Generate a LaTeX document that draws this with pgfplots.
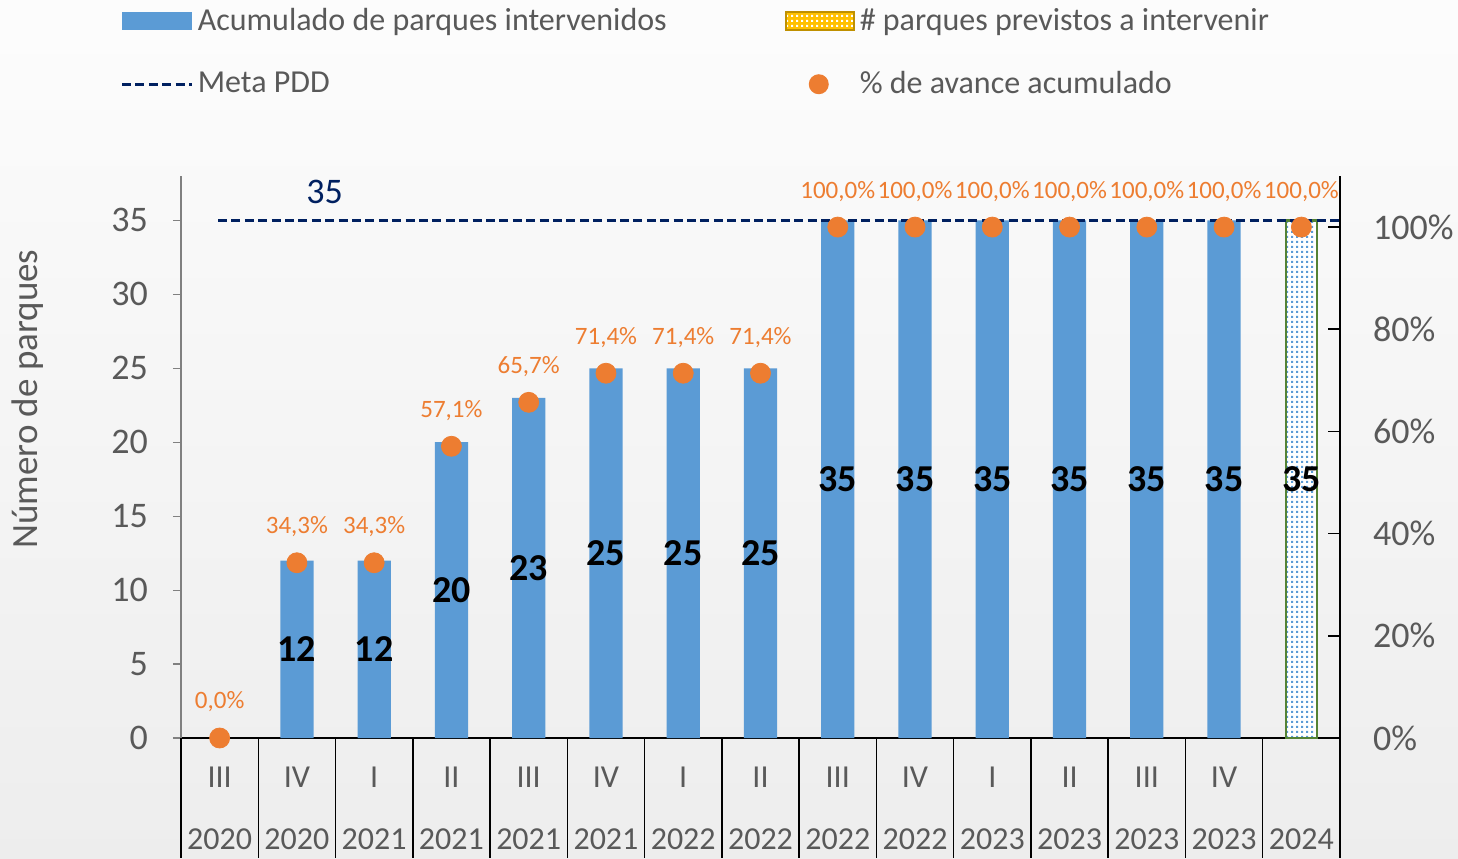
\documentclass[border=0pt]{standalone}
\usepackage{pgfplots}
\usepackage{pgfplotstable}
\pgfplotsset{compat=1.18}
\usepackage{fontspec}
\setmainfont{Carlito}
\usetikzlibrary{patterns}
\definecolor{barblue}{HTML}{5B9BD5}
\definecolor{dotorange}{HTML}{ED7D31}
\definecolor{navy}{HTML}{002060}
\definecolor{txtgray}{HTML}{595959}
\definecolor{gold}{HTML}{FFC000}
\definecolor{darkgold}{HTML}{BF9000}
\definecolor{pgreen}{HTML}{548235}

\pgfdeclarepatternformonly{sqdots}{\pgfpointorigin}{\pgfqpoint{2.5pt}{2.5pt}}{\pgfqpoint{2.5pt}{2.5pt}}{%
  \pgfpathrectangle{\pgfqpoint{0.7pt}{0.7pt}}{\pgfqpoint{1.1pt}{1.1pt}}\pgfusepath{fill}}

\pgfplotstableread{
x y half lab
1 12 6 12
2 12 6 12
3 20 10 20
4 23 11.5 23
5 25 12.5 25
6 25 12.5 25
7 25 12.5 25
8 35 17.5 35
9 35 17.5 35
10 35 17.5 35
11 35 17.5 35
12 35 17.5 35
13 35 17.5 35
}\barsdata

\pgfplotstableread{
x y half lab
14 35 17.5 35
}\plandata

\pgfplotstableread{
x p lab
0 0.000 0,0\%
1 0.343 34,3\%
2 0.343 34,3\%
3 0.571 57,1\%
4 0.657 65,7\%
5 0.714 71,4\%
6 0.714 71,4\%
7 0.714 71,4\%
8 1.000 100,0\%
9 1.000 100,0\%
10 1.000 100,0\%
11 1.000 100,0\%
12 1.000 100,0\%
13 1.000 100,0\%
14 1.000 100,0\%
}\pctdata

\begin{document}
\begin{tikzpicture}
\useasboundingbox (0,0) rectangle (729pt,429pt);
\shade[top color=white!99!black, bottom color=white!93!black] (0,0) rectangle (729pt,429pt);
\begin{axis}[
  at={(90.5pt,60pt)}, anchor=south west,
  scale only axis, width=579.5pt, height=281pt,
  xmin=-0.5, xmax=14.5, ymin=0, ymax=38,
  axis x line*=bottom, axis y line*=left,
  x axis line style={-, black, line width=1pt},
  y axis line style={-, gray, line width=0.6pt},
  clip=false,
  ytick={0,5,...,35},
  ytick style={gray, line width=0.6pt},
  tick align=outside, major tick length=4pt,
  /pgf/number format/assume math mode=true,
  yticklabel style={font=\fontsize{18}{20}\selectfont, text=txtgray, xshift=-9pt},
  xtick={0,...,14}, x tick style={draw=none},
  xticklabels={{III\\[12pt]2020},{IV\\[12pt]2020},{I\\[12pt]2021},{II\\[12pt]2021},{III\\[12pt]2021},{IV\\[12pt]2021},{I\\[12pt]2022},{II\\[12pt]2022},{III\\[12pt]2022},{IV\\[12pt]2022},{I\\[12pt]2023},{II\\[12pt]2023},{III\\[12pt]2023},{IV\\[12pt]2023},{\phantom{I}\\[12pt]2024}},
  xticklabel style={align=center, font=\fontsize{16}{19}\selectfont, text=txtgray, anchor=north, yshift=-7pt},
  ylabel={Número de parques},
  ylabel style={at={(axis description cs:-0.132,0.603)}, anchor=center, font=\fontsize{18.5}{20}\selectfont, text=txtgray},
  legend columns=2,
  legend style={at={(axis description cs:0,1)}, anchor=north west, xshift=-30.5pt, yshift=86pt,
    draw=none, fill=none, inner sep=0pt, font=\fontsize{16}{18}\selectfont, text=txtgray,
    row sep=15pt, /tikz/every even column/.append style={column sep=57pt}},
  legend cell align=left,
]
\addlegendimage{legend image code/.code={\fill[barblue, draw=none] (0pt,-4.5pt) rectangle (35pt,4.5pt);}}
\addlegendentry{Acumulado de parques intervenidos}
\addlegendimage{legend image code/.code={\draw[darkgold, line width=1pt, fill=gold, postaction={pattern=sqdots, pattern color=white}] (0pt,-4.5pt) rectangle (34pt,4.5pt);}}
\addlegendentry{\# parques previstos a intervenir}
\addlegendimage{legend image code/.code={\draw[navy, line width=1.7pt, dash pattern=on 4.5pt off 2.2pt] (0pt,0pt) -- (35pt,0pt);}}
\addlegendentry{Meta PDD}
\addlegendimage{legend image code/.code={\path[draw=none] (0pt,0pt) -- (35pt,0pt); \fill[dotorange, draw=none] (16.5pt,0pt) circle (5pt);}}
\addlegendentry{\% de avance acumulado}

\addplot[ybar, bar width=0.43, fill=barblue, draw=none, forget plot] table[x=x, y=y] {\barsdata};
\addplot[ybar, bar width=0.40, fill=white, draw=pgreen, line width=1.2pt, postaction={pattern=sqdots, pattern color=barblue}, forget plot] table[x=x, y=y] {\plandata};

\addplot[navy, line width=1.8pt, dash pattern=on 4.5pt off 2.2pt, forget plot] coordinates {(-0.02,35) (14.5,35)};
\node[text=navy, font=\fontsize{18}{20}\selectfont] at (axis cs:1.36,36.9) {35};

\addplot[draw=none, mark=none, forget plot, nodes near coords, point meta=explicit symbolic,
  nodes near coords align={anchor=center},
  every node near coord/.append style={anchor=center, font=\bfseries\fontsize{19}{21}\selectfont, text=black}]
  table[x=x, y=half, meta=lab] {\barsdata};
\addplot[draw=none, mark=none, forget plot, nodes near coords, point meta=explicit symbolic,
  nodes near coords align={anchor=center},
  every node near coord/.append style={anchor=center, font=\bfseries\fontsize{19}{21}\selectfont, text=black}]
  table[x=x, y=half, meta=lab] {\plandata};

\pgfplotsinvokeforeach{-0.5,0.5,...,14.5}{
  \draw[black, line width=0.75pt] (axis cs:#1,0) -- ++(0pt,-60pt);
}
\end{axis}

\begin{axis}[
  at={(90.5pt,60pt)}, anchor=south west,
  scale only axis, width=579.5pt, height=281pt,
  xmin=-0.5, xmax=14.5, ymin=0, ymax=1.1,
  axis x line=none, axis y line*=right,
  y axis line style={-, black, line width=1pt},
  clip=false,
  ytick={0,0.2,0.4,0.6,0.8,1.0},
  yticklabels={0\%,20\%,40\%,60\%,80\%,100\%},
  ytick style={black, line width=0.8pt},
  tick align=inside, major tick length=6pt,
  yticklabel style={font=\fontsize{18}{20}\selectfont, text=txtgray, xshift=13pt},
]
\addplot[only marks, mark=*, mark size=5pt, color=dotorange, nodes near coords, point meta=explicit symbolic,
  nodes near coords align={anchor=center},
  every node near coord/.append style={anchor=center, yshift=18pt, font=\fontsize{12.5}{14}\selectfont, text=dotorange}]
  table[x=x, y=p, meta=lab] {\pctdata};
\end{axis}
\end{tikzpicture}
\end{document}
